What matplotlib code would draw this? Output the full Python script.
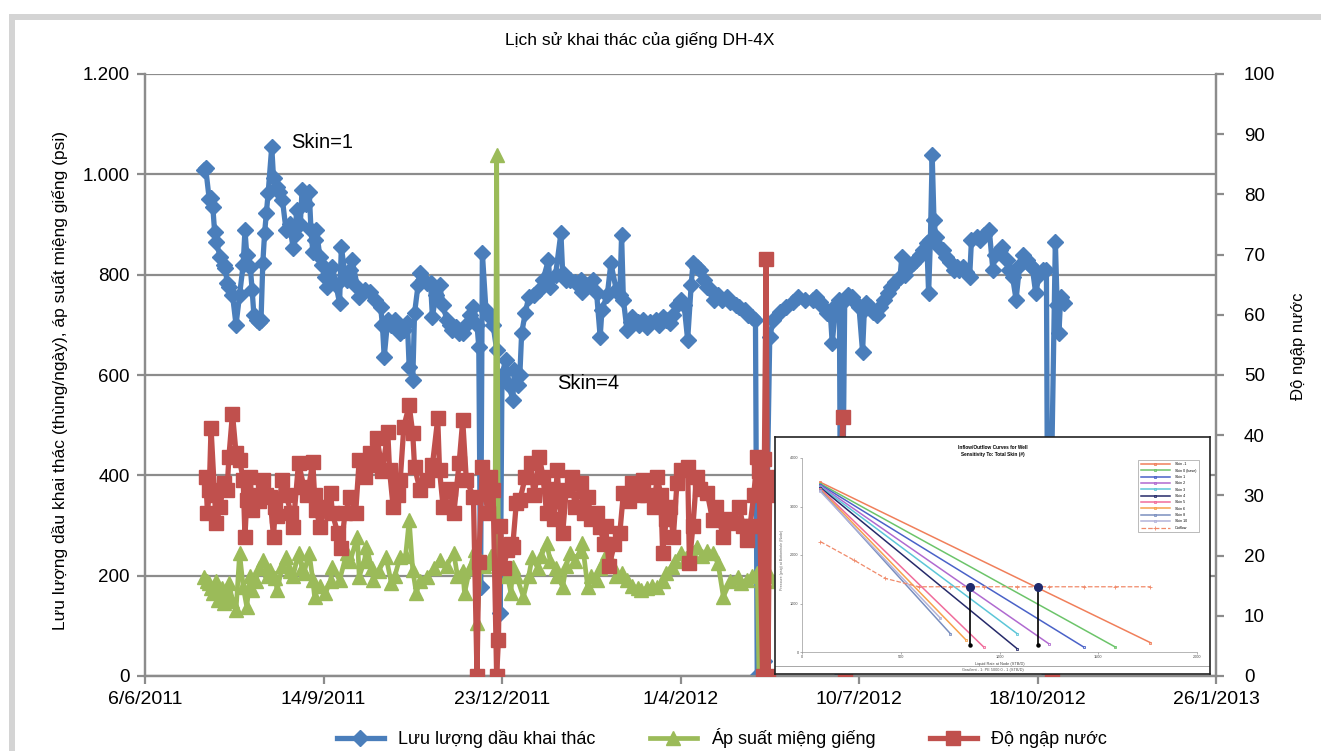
import datetime as dt
import matplotlib
matplotlib.use('Agg')
import matplotlib.pyplot as plt
from matplotlib.patches import Rectangle

plt.rcParams['font.family'] = ['Liberation Sans', 'DejaVu Sans']

DAY0 = dt.date(2011, 6, 6)   # days below are counted from this date

# oil rate (bbl/day), left axis
oil_day = [33, 34, 36, 37, 38, 39, 40, 42, 44, 45, 46, 47, 49, 51, 53, 55, 56, 57, 59, 60,
           61, 63, 64, 65, 66, 67, 68, 69, 71, 72, 74, 75, 77, 79, 81, 83, 84, 85, 87, 88,
           90, 92, 93, 94, 95, 96, 98, 99, 101, 102, 104, 105, 107, 109, 110, 112, 113, 115, 116, 119,
           120, 123, 126, 129, 132, 133, 134, 136, 138, 140, 142, 143, 145, 147, 148, 150, 151, 153, 154, 156,
           158, 160, 161, 163, 165, 167, 169, 171, 172, 174, 176, 178, 180, 182, 184, 186, 187, 188, 189, 191,
           193, 195, 197, 199, 200, 202, 204, 206, 207, 209, 210, 211, 213, 215, 218, 221, 223, 226, 227, 230,
           233, 234, 236, 238, 241, 244, 245, 248, 251, 253, 255, 256, 259, 261, 264, 266, 267, 268, 270, 272,
           273, 276, 277, 279, 281, 283, 286, 288, 290, 292, 294, 296, 298, 300, 302, 304, 306, 307, 309, 311,
           313, 315, 317, 319, 321, 323, 326, 328, 331, 333, 336, 338, 340, 342, 343, 347, 350, 352, 356, 359,
           363, 366, 370, 374, 376, 378, 380, 382, 384, 385, 387, 389, 390, 392, 394, 396, 398, 400, 402, 403,
           404, 406, 408, 410, 412, 414, 416, 418, 420, 423, 424, 426, 428, 430, 432, 434, 436, 438, 439, 440,
           441, 442, 443, 445, 447, 449, 451, 453, 455, 456, 458, 460, 462, 463, 466, 468, 470, 473, 475, 476,
           479, 480, 483, 484, 486, 488, 490, 492, 494, 496, 497, 499, 501, 503, 505, 506, 510, 511, 512, 513,
           515]
oil_rate = [1008, 1012, 950, 953, 935, 885, 866, 836, 820, 813, 783, 775, 760, 700, 760, 820, 889, 840, 815, 770,
            720, 710, 705, 710, 823, 883, 923, 963, 1055, 993, 975, 965, 949, 889, 900, 853, 880, 929, 900, 969,
            940, 965, 889, 846, 870, 889, 836, 820, 796, 776, 790, 816, 780, 743, 856, 800, 789, 810, 829, 776,
            756, 770, 766, 750, 736, 700, 636, 710, 700, 710, 690, 683, 690, 703, 616, 590, 723, 780, 803, 790,
            783, 783, 716, 760, 779, 740, 710, 700, 690, 695, 683, 683, 700, 720, 736, 700, 656, 178, 843, 730,
            716, 700, 650, 125, 600, 630, 580, 550, 610, 580, 600, 683, 723, 756, 760, 770, 790, 829, 776, 800,
            883, 803, 790, 789, 785, 789, 766, 780, 789, 763, 676, 730, 760, 823, 770, 760, 879, 750, 690, 705,
            716, 705, 700, 710, 696, 705, 710, 700, 716, 710, 703, 720, 740, 750, 740, 670, 780, 823, 815, 809,
            790, 776, 770, 750, 760, 750, 756, 745, 740, 736, 730, 720, 715, 710, 0, 30, 676, 710, 725, 736,
            745, 756, 750, 750, 756, 745, 735, 723, 720, 663, 740, 750, 0, 750, 759, 755, 745, 735, 646, 730,
            743, 735, 725, 720, 735, 750, 763, 775, 785, 796, 836, 800, 815, 823, 830, 840, 850, 863, 763, 870,
            1038, 909, 876, 856, 850, 836, 825, 809, 815, 810, 816, 805, 796, 869, 876, 870, 880, 889, 809, 840,
            850, 856, 830, 810, 796, 750, 820, 839, 830, 820, 816, 763, 800, 810, 809, 0, 866, 740, 683, 756,
            743]

# wellhead pressure (psi), left axis
whp_day = [33, 35, 36, 37, 38, 40, 41, 43, 44, 46, 47, 49, 51, 53, 55, 57, 59, 60, 62, 64,
           66, 69, 70, 73, 74, 77, 79, 81, 83, 86, 88, 89, 92, 94, 95, 98, 101, 104, 105, 109,
           113, 115, 119, 120, 123, 124, 127, 128, 131, 135, 138, 140, 143, 146, 148, 150, 152, 154, 158, 162,
           165, 169, 173, 175, 178, 179, 182, 185, 186, 188, 190, 192, 194, 196, 197, 198, 201, 203, 205, 206,
           208, 212, 215, 217, 220, 222, 225, 227, 230, 231, 234, 236, 238, 241, 244, 245, 248, 250, 253, 255,
           257, 259, 262, 264, 267, 270, 273, 276, 278, 281, 284, 287, 290, 292, 295, 297, 300, 303, 306, 309,
           312, 315, 318, 321, 324, 328, 332, 334, 337, 340, 343, 344, 346, 350, 354, 358, 362, 366, 370, 374,
           378, 382, 386, 390, 394, 398, 402, 406, 410, 414, 418, 422, 426, 430, 434, 438, 442, 446, 450, 454,
           458, 462, 466, 470, 474, 478, 482, 486, 490, 494, 498, 502, 506, 510, 514]
whp_psi = [198, 190, 185, 175, 165, 190, 151, 175, 145, 160, 185, 150, 132, 245, 178, 138, 200, 171, 190, 215,
           231, 200, 211, 195, 171, 220, 238, 210, 200, 245, 215, 205, 245, 191, 158, 180, 165, 190, 218, 191,
           245, 230, 278, 198, 230, 258, 215, 191, 210, 238, 185, 200, 238, 240, 311, 211, 165, 190, 198, 215,
           231, 220, 245, 200, 210, 165, 215, 251, 105, 230, 220, 225, 240, 230, 1038, 230, 220, 200, 165, 218,
           200, 158, 200, 238, 215, 240, 265, 230, 215, 200, 178, 220, 245, 230, 250, 265, 178, 200, 191, 215,
           230, 245, 220, 200, 205, 191, 180, 175, 171, 175, 180, 178, 190, 205, 218, 230, 245, 235, 250, 258,
           240, 250, 245, 225, 158, 190, 198, 185, 191, 200, 205, 0, 195, 200, 190, 205, 185, 200, 210, 195,
           185, 200, 215, 190, 180, 200, 210, 195, 200, 220, 205, 190, 210, 225, 200, 215, 230, 210, 200, 220,
           205, 195, 215, 225, 200, 210, 195, 205, 215, 190, 200, 210, 195, 205, 200]

# water cut (%), right axis
wc_day = [34, 35, 36, 37, 39, 40, 42, 44, 46, 47, 49, 51, 53, 55, 56, 57, 59, 60, 62, 64,
          66, 68, 70, 72, 73, 74, 77, 79, 82, 83, 86, 89, 91, 94, 95, 96, 98, 101, 104, 105,
          108, 110, 112, 115, 118, 120, 123, 126, 128, 130, 133, 136, 137, 139, 142, 143, 145, 148, 150, 151,
          154, 158, 161, 164, 165, 167, 171, 173, 176, 178, 180, 184, 186, 187, 189, 192, 193, 195, 197, 198,
          199, 201, 203, 205, 206, 208, 210, 213, 216, 218, 221, 223, 225, 227, 229, 231, 232, 234, 236, 239,
          241, 244, 246, 248, 250, 253, 255, 257, 258, 260, 263, 266, 268, 271, 273, 276, 279, 281, 285, 287,
          289, 290, 292, 294, 296, 298, 300, 304, 305, 307, 309, 311, 315, 318, 320, 324, 326, 329, 333, 335,
          337, 339, 341, 343, 344, 346, 347, 348, 349, 350, 354, 358, 362, 366, 370, 374, 378, 382, 386, 389,
          391, 392, 394, 398, 402, 406, 410, 414, 418, 422, 426, 430, 434, 438, 442, 446, 450, 454, 458, 462,
          466, 470, 474, 478, 482, 486, 490, 494, 498, 502, 506, 508, 510]
wc_pct = [33.1, 27, 30.9, 41.2, 30, 25.4, 28, 32, 30.9, 36.4, 43.6, 37, 35.9, 32.6, 23.1, 29.2, 33, 27.6, 30, 29,
          32.6, 30, 29.8, 23.1, 28, 26.5, 32.6, 30, 27, 24.8, 35.4, 31.4, 30, 35.6, 30, 27.6, 24.8, 28, 30.4, 27,
          23.7, 21.3, 27, 29.8, 27, 35.9, 33, 37, 35, 39.5, 34, 40.6, 34.2, 28.1, 30, 32.6, 41.4, 45, 40.3, 34.8,
          30.9, 32.6, 35, 42.8, 34.2, 28.1, 31, 27, 35.4, 42.5, 32.6, 29.8, 0, 19, 34.8, 27, 33, 30.9, 0, 6,
          25, 18, 21, 22, 21.5, 28.7, 29.2, 33, 35.4, 30, 36.4, 33, 27, 31, 26, 34.2, 29, 23.7, 30.9, 33,
          28, 32, 27, 29.8, 26, 27, 24.8, 22, 25, 18.2, 22, 23.7, 30.4, 29, 32, 30, 32.6, 30, 28.1, 33.1,
          30, 20.4, 26, 28, 23.1, 32, 34.2, 34.8, 18.8, 25, 33.1, 31, 30.4, 25.9, 28, 23.1, 26, 25.4, 28.1, 25,
          22.6, 25, 30, 36.4, 34, 0, 36, 69.3, 0, 33, 30, 27, 32, 29, 26, 31, 28, 33, 30, 27,
          43, 0, 29, 32, 27, 30, 34, 28, 31, 26, 29, 33, 30, 27, 32, 29, 35, 31, 28, 33,
          30, 27, 31, 34, 29, 32, 28, 30, 33, 29, 31, 0, 30]

x_tick_days = [0, 100, 200, 300, 400, 500, 600]
y_left_ticks = [0, 200, 400, 600, 800, 1000, 1200]
y_left_labels = ['0', '200', '400', '600', '800', '1.000', '1.200']
y_right_ticks = [0, 10, 20, 30, 40, 50, 60, 70, 80, 90, 100]

# inset picture: inflow curves for several skin values + outflow curve
ipr_labels = ['Skin -1', 'Skin 0 (base)', 'Skin 1', 'Skin 2', 'Skin 3', 'Skin 4',
              'Skin 5', 'Skin 6', 'Skin 8', 'Skin 10']
ipr_colors = ['#f07f5a', '#6cc46a', '#4a62c8', '#b06ad0', '#5cc6d8', '#262a6a',
              '#f06c9b', '#f7a24d', '#7a8fbf', '#b3b3d9']
ipr_start_x = [93, 93, 93, 93, 93, 93, 93, 93, 93, 93]
ipr_start_y = [3500, 3470, 3450, 3430, 3410, 3390, 3370, 3350, 3330, 3310]
ipr_end_x = [1764, 1586, 1426, 1249, 1089, 1089, 920, 830, 751, 700]
ipr_end_y = [193, 103, 103, 172, 379, 69, 103, 250, 379, 700]
vlp_x = [93, 262, 422, 591, 751, 920, 1089, 1249, 1426, 1586, 1764]
vlp_y = [2276, 1897, 1517, 1345, 1345, 1345, 1345, 1345, 1345, 1345, 1345]
op_x = [849, 1193]
op_y = [1345, 1345]
op_y0 = [138, 138]

W, H = 1321, 751
fig = plt.figure(figsize=(W / 100, H / 100), dpi=100)


def fx(px):
    return px / W


def fy(py):
    return 1 - py / H


# outer light grey frame (cut off at right and bottom)
fig.patches.append(Rectangle((fx(12), fy(900)), fx(1500), fy(16.5) - fy(900), transform=fig.transFigure,
                             fill=False, ec='#d4d4d4', lw=4.3, zorder=0))

ax = fig.add_axes([fx(145), fy(676), fx(1216) - fx(145), fy(74) - fy(676)])
ax2 = ax.twinx()

blue = '#4a7ebb'
green = '#9bbb59'
red = '#c0504d'
axis_grey = '#8c8c8c'

ax.plot(oil_day, oil_rate, color=blue, lw=3.8, marker='D', ms=8, mec=blue, zorder=3,
        label='Lưu lượng dầu khai thác')
ax.plot(whp_day, whp_psi, color=green, lw=3.4, marker='^', ms=10.5, mec=green, zorder=4,
        label='Áp suất miệng giếng')
ax2.plot(wc_day, wc_pct, color=red, lw=3.8, marker='s', ms=10.5, mec=red, zorder=3,
         label='Độ ngập nước')

ax.set_xlim(0, 600)
ax.set_ylim(0, 1200)
ax2.set_ylim(0, 100)
ax.set_xticks(x_tick_days)
tick_dates = [DAY0 + dt.timedelta(days=d) for d in x_tick_days]
ax.set_xticklabels([f'{d.day}/{d.month}/{d.year}' for d in tick_dates])
ax.set_yticks(y_left_ticks)
ax.set_yticklabels(y_left_labels)
ax2.set_yticks(y_right_ticks)

ax.grid(axis='y', color=axis_grey, lw=1.6)
ax.set_axisbelow(True)
for a in (ax, ax2):
    a.spines['top'].set_visible(False)
    for s in ('left', 'right', 'bottom'):
        a.spines[s].set_color(axis_grey)
        a.spines[s].set_linewidth(1.6)
ax.tick_params(axis='both', colors=axis_grey, labelcolor='black', length=6, width=1.6)
ax.tick_params(axis='x', labelsize=14, pad=5)
ax.tick_params(axis='y', labelsize=13.5, pad=5)
ax2.tick_params(axis='y', colors=axis_grey, labelcolor='black', length=6, width=1.6, labelsize=13.5, pad=14)

fig.text(fx(640), fy(40), 'Lịch sử khai thác của giếng DH-4X', ha='center', va='center', fontsize=12.5)
fig.text(fx(60), fy(380), 'Lưu lượng dầu khai thác (thùng/ngày), áp suất miệng giếng (psi)',
         rotation=90, ha='center', va='center', fontsize=12.5)
fig.text(fx(1298), fy(346), 'Độ ngập nước', rotation=90, ha='center', va='center', fontsize=12)
ax.text(82, 1064, 'Skin=1', ha='left', va='center', fontsize=14.5, zorder=6)
ax.text(231, 584, 'Skin=4', ha='left', va='center', fontsize=14.5, zorder=6)

h1, l1 = ax.get_legend_handles_labels()
h2, l2 = ax2.get_legend_handles_labels()
fig.legend(h1 + h2, l1 + l2, loc='center', bbox_to_anchor=(fx(722), fy(738)), ncol=3, frameon=False,
           fontsize=13, handlelength=2.6, columnspacing=3.0, handletextpad=0.8)

# ---- inset picture (sensitivity chart) ----
frame = fig.add_axes([fx(775), fy(674), fx(1210) - fx(775), fy(437) - fy(674)], zorder=10)
frame.set_xticks([])
frame.set_yticks([])
for s in frame.spines.values():
    s.set_color('#222222')
    s.set_linewidth(1.2)
frame.axhline(0.035, xmin=0.0, xmax=1.0, color='#999999', lw=0.6)
frame.text(0.5, 0.955, 'Inflow/Outflow Curves for Well', ha='center', va='center', fontsize=3.4,
           fontweight='bold', transform=frame.transAxes)
frame.text(0.5, 0.925, 'Sensitivity To: Total Skin (#)', ha='center', va='center', fontsize=3.4,
           fontweight='bold', transform=frame.transAxes)
frame.text(0.5, 0.018, 'Gradient - 1: PE 5000.0 - 1 (STB/D)', ha='center', va='center', fontsize=2.8,
           color='#555555', transform=frame.transAxes)
frame.text(0.015, 0.48, 'Pressure (psig) at Bottomhole (Node)', rotation=90, ha='center', va='center',
           fontsize=2.6, color='#666666', transform=frame.transAxes)

inner = fig.add_axes([fx(802), fy(652), fx(1197) - fx(802), fy(458) - fy(652)], zorder=11)
inner.patch.set_alpha(0)
for i in range(len(ipr_labels)):
    inner.plot([ipr_start_x[i], ipr_end_x[i]], [ipr_start_y[i], ipr_end_y[i]], color=ipr_colors[i],
               lw=1.1, marker='s', ms=2, mfc='none', mew=0.6, label=ipr_labels[i])
inner.plot(vlp_x, vlp_y, color='#f08a6a', lw=0.9, ls='--', marker='+', ms=2.5, mew=0.6,
           label='Outflow')
for i in range(len(op_x)):
    inner.plot([op_x[i], op_x[i]], [op_y0[i], op_y[i]], color='black', lw=1.2, zorder=5)
inner.plot(op_x, op_y, ls='none', marker='o', ms=5.5, color='#1f2a6e', zorder=6)
inner.plot(op_x, op_y0, ls='none', marker='o', ms=2.2, color='black', zorder=6)
inner.set_xlim(0, 2000)
inner.set_ylim(0, 4000)
inner.set_xticks([0, 500, 1000, 1500, 2000])
inner.set_yticks([0, 1000, 2000, 3000, 4000])
inner.tick_params(labelsize=2.7, length=1.5, width=0.4, colors='#777777', labelcolor='#444444', pad=1)
for s in ('top', 'right'):
    inner.spines[s].set_visible(False)
for s in ('left', 'bottom'):
    inner.spines[s].set_color('#999999')
    inner.spines[s].set_linewidth(0.5)
inner.set_xlabel('Liquid Rate at Node (STB/D)', fontsize=2.8, labelpad=1.5, color='#444444')
leg = inner.legend(loc='upper right', fontsize=2.6, frameon=True, handlelength=8, borderpad=0.7,
                   labelspacing=0.65, handletextpad=1.5, fancybox=False, bbox_to_anchor=(1.01, 1.0))
leg.get_frame().set_linewidth(0.5)
leg.get_frame().set_edgecolor('#888888')

fig.savefig('out.png', dpi=100)
